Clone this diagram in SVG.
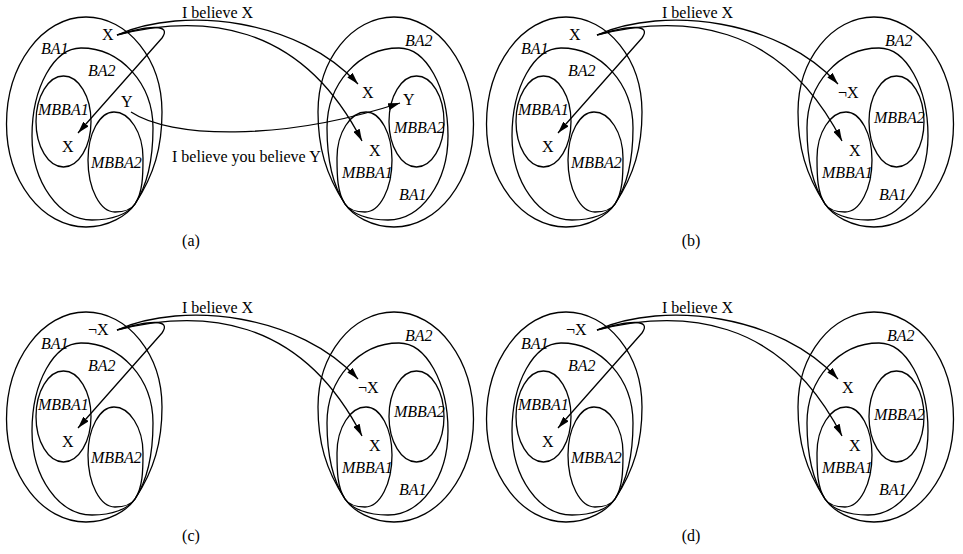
<svg xmlns="http://www.w3.org/2000/svg" xmlns:xlink="http://www.w3.org/1999/xlink" width="963" height="554" viewBox="0 0 963 554">
  <style>
    .set { fill: none; stroke: #000; stroke-width: 1.3; }
    .link { fill: none; stroke: #000; stroke-width: 1.3; marker-end: url(#arrow); }
    text { font-family: "Liberation Serif", "Times New Roman", serif; font-size: 16px; fill: #000; }
    .it { font-style: italic; }
    .cap { text-anchor: middle; }
  </style>
  <defs>
    <marker id="arrow" markerWidth="12" markerHeight="7" refX="12" refY="3.5" orient="auto" markerUnits="userSpaceOnUse">
      <path d="M0,0 L12,3.5 L0,7 z" fill="#000"/>
    </marker>
    <!-- nested belief sets of one agent; all touch at (135,204) -->
    <path id="outer" class="set" d="M135,204 C154.3,174.8 162,147 162,112 C162,59.5 128,17 86,17 C42.1,17 6.5,64.9 6.5,124 C6.5,180.9 42.1,227 86,227 C108,227 127.3,215.7 135,204 Z"/>
    <path id="inner" class="set" d="M135,204 C148.75,183.1 153,156 153,128 C153,83.8 120.8,48 81,48 C53.9,48 32,87.4 32,136 C32,182.4 58.9,220 92,220 C112,220 128.4,214 135,204 Z"/>
    <path id="touching" class="set" d="M135,204 C142.7,192.3 143,176 143,158 C143,132.6 129.5,112 114,112 C99.6,112 88,133.5 88,160 C88,188.7 100.1,212 115,212 C124,212 131.7,209 135,204 Z"/>
    <ellipse id="free" class="set" cx="63.5" cy="121.5" rx="27.5" ry="45.5"/>
  </defs>

  <!-- ===== panel (a) ===== -->
  <g id="panel-a">
    <g id="a-ag1-BA1"><use xlink:href="#outer"/><text class="it" x="41" y="54">BA1</text><text x="102" y="40">X</text></g>
    <g id="a-ag1-BA2"><use xlink:href="#inner"/><text class="it" x="88" y="76">BA2</text><text x="121" y="107">Y</text></g>
    <g id="a-ag1-MBBA1"><use xlink:href="#free"/><text class="it" x="38" y="115">MBBA1</text><text x="62" y="152">X</text></g>
    <g id="a-ag1-MBBA2"><use xlink:href="#touching"/><text class="it" x="91" y="168">MBBA2</text></g>

    <g id="a-ag2-BA2"><use xlink:href="#outer" transform="matrix(-1 0 0 1 480 0)"/><text class="it" x="405" y="46">BA2</text></g>
    <g id="a-ag2-BA1"><use xlink:href="#inner" transform="matrix(-1 0 0 1 480 0)"/><text class="it" x="399" y="200">BA1</text><text x="362" y="98">X</text></g>
    <g id="a-ag2-MBBA2"><use xlink:href="#free" transform="matrix(-1 0 0 1 480 0)"/><text class="it" x="394" y="133">MBBA2</text><text x="403" y="105">Y</text></g>
    <g id="a-ag2-MBBA1"><use xlink:href="#touching" transform="matrix(-1 0 0 1 480 0)"/><text class="it" x="342" y="178">MBBA1</text><text x="369" y="156">X</text></g>

    <g id="a-connectors">
      <path class="link" d="M117,35 C150,25 172,24 162,38 L78,133"/>
      <path class="link" d="M117,35 C185,5 300,20 358,84"/>
      <path class="link" d="M117,35 C200,14 300,20 362,141"/>
      <path class="link" d="M131,112 C170,138 280,142 400,103"/>
      <text x="182" y="18">I believe X</text>
      <text x="172" y="162">I believe you believe Y</text>
    </g>
    <text class="cap" x="191" y="246">(a)</text>
  </g>

  <!-- ===== panel (b) ===== -->
  <g id="panel-b" transform="translate(480,0)">
    <g id="b-ag1-BA1"><use xlink:href="#outer"/><text class="it" x="41" y="54">BA1</text><text x="89" y="40">X</text></g>
    <g id="b-ag1-BA2"><use xlink:href="#inner"/><text class="it" x="88" y="76">BA2</text></g>
    <g id="b-ag1-MBBA1"><use xlink:href="#free"/><text class="it" x="38" y="115">MBBA1</text><text x="62" y="152">X</text></g>
    <g id="b-ag1-MBBA2"><use xlink:href="#touching"/><text class="it" x="91" y="168">MBBA2</text></g>

    <g id="b-ag2-BA2"><use xlink:href="#outer" transform="matrix(-1 0 0 1 480 0)"/><text class="it" x="405" y="46">BA2</text></g>
    <g id="b-ag2-BA1"><use xlink:href="#inner" transform="matrix(-1 0 0 1 480 0)"/><text class="it" x="399" y="200">BA1</text><text x="358" y="98">¬X</text></g>
    <g id="b-ag2-MBBA2"><use xlink:href="#free" transform="matrix(-1 0 0 1 480 0)"/><text class="it" x="394" y="123">MBBA2</text></g>
    <g id="b-ag2-MBBA1"><use xlink:href="#touching" transform="matrix(-1 0 0 1 480 0)"/><text class="it" x="342" y="178">MBBA1</text><text x="369" y="156">X</text></g>

    <g id="b-connectors">
      <path class="link" d="M117,35 C150,25 172,24 162,38 L78,133"/>
      <path class="link" d="M117,35 C185,5 300,20 358,84"/>
      <path class="link" d="M117,35 C200,14 300,20 362,141"/>
      <text x="182" y="18">I believe X</text>
    </g>
    <text class="cap" x="211" y="246">(b)</text>
  </g>

  <!-- ===== panel (c) ===== -->
  <g id="panel-c" transform="translate(0,295)">
    <g id="c-ag1-BA1"><use xlink:href="#outer"/><text class="it" x="41" y="54">BA1</text><text x="88" y="40">¬X</text></g>
    <g id="c-ag1-BA2"><use xlink:href="#inner"/><text class="it" x="88" y="76">BA2</text></g>
    <g id="c-ag1-MBBA1"><use xlink:href="#free"/><text class="it" x="38" y="115">MBBA1</text><text x="62" y="152">X</text></g>
    <g id="c-ag1-MBBA2"><use xlink:href="#touching"/><text class="it" x="91" y="168">MBBA2</text></g>

    <g id="c-ag2-BA2"><use xlink:href="#outer" transform="matrix(-1 0 0 1 480 0)"/><text class="it" x="405" y="46">BA2</text></g>
    <g id="c-ag2-BA1"><use xlink:href="#inner" transform="matrix(-1 0 0 1 480 0)"/><text class="it" x="399" y="200">BA1</text><text x="358" y="98">¬X</text></g>
    <g id="c-ag2-MBBA2"><use xlink:href="#free" transform="matrix(-1 0 0 1 480 0)"/><text class="it" x="394" y="122">MBBA2</text></g>
    <g id="c-ag2-MBBA1"><use xlink:href="#touching" transform="matrix(-1 0 0 1 480 0)"/><text class="it" x="342" y="178">MBBA1</text><text x="369" y="156">X</text></g>

    <g id="c-connectors">
      <path class="link" d="M117,35 C150,25 172,24 162,38 L78,133"/>
      <path class="link" d="M117,35 C185,5 300,20 358,84"/>
      <path class="link" d="M117,35 C200,14 300,20 362,141"/>
      <text x="182" y="18">I believe X</text>
    </g>
    <text class="cap" x="191" y="246">(c)</text>
  </g>

  <!-- ===== panel (d) ===== -->
  <g id="panel-d" transform="translate(480,295)">
    <g id="d-ag1-BA1"><use xlink:href="#outer"/><text class="it" x="41" y="54">BA1</text><text x="86" y="40">¬X</text></g>
    <g id="d-ag1-BA2"><use xlink:href="#inner"/><text class="it" x="88" y="76">BA2</text></g>
    <g id="d-ag1-MBBA1"><use xlink:href="#free"/><text class="it" x="38" y="115">MBBA1</text><text x="62" y="152">X</text></g>
    <g id="d-ag1-MBBA2"><use xlink:href="#touching"/><text class="it" x="91" y="168">MBBA2</text></g>

    <g id="d-ag2-BA2"><use xlink:href="#outer" transform="matrix(-1 0 0 1 480 0)"/><text class="it" x="407" y="46">BA2</text></g>
    <g id="d-ag2-BA1"><use xlink:href="#inner" transform="matrix(-1 0 0 1 480 0)"/><text class="it" x="399" y="200">BA1</text><text x="362" y="98">X</text></g>
    <g id="d-ag2-MBBA2"><use xlink:href="#free" transform="matrix(-1 0 0 1 480 0)"/><text class="it" x="394" y="125">MBBA2</text></g>
    <g id="d-ag2-MBBA1"><use xlink:href="#touching" transform="matrix(-1 0 0 1 480 0)"/><text class="it" x="342" y="178">MBBA1</text><text x="369" y="156">X</text></g>

    <g id="d-connectors">
      <path class="link" d="M117,35 C150,25 172,24 162,38 L78,133"/>
      <path class="link" d="M117,35 C185,5 300,20 358,84"/>
      <path class="link" d="M117,35 C200,14 300,20 362,141"/>
      <text x="182" y="18">I believe X</text>
    </g>
    <text class="cap" x="211" y="246">(d)</text>
  </g>
</svg>
